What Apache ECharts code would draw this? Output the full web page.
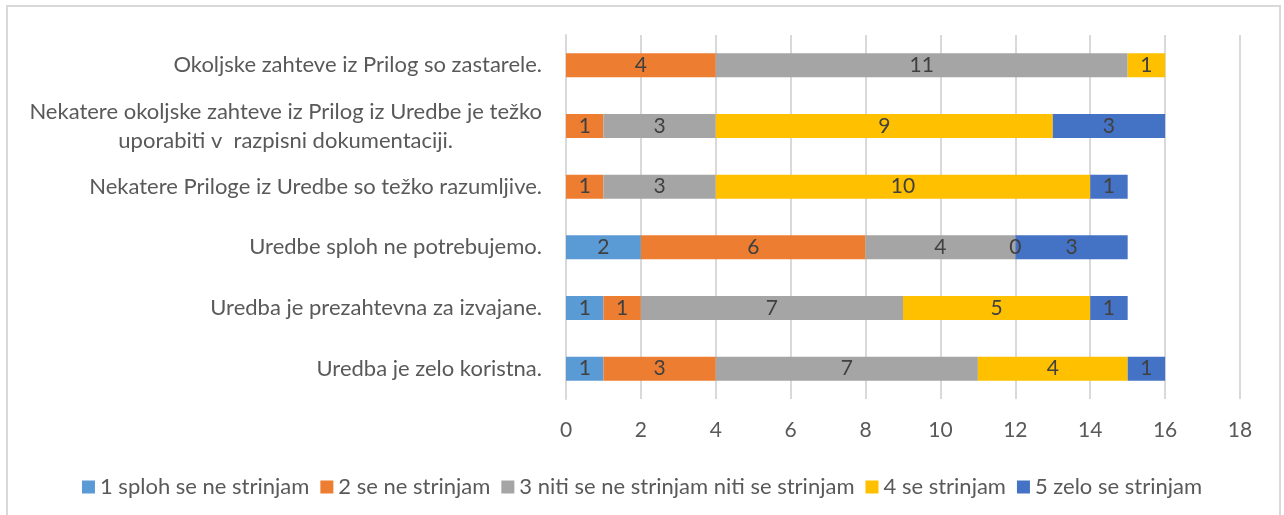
<!DOCTYPE html>
<html>
<head>
<meta charset="utf-8">
<script src="https://cdn.jsdelivr.net/npm/echarts@6/dist/echarts.min.js"></script>
<style>
  html, body { margin: 0; padding: 0; background: #fff; }
  #chart { width: 1284px; height: 515px; }
</style>
</head>
<body>
<div id="chart"></div>
<script>
// categories bottom -> top (as the category axis draws them)
var categories = [
    'Uredba je zelo koristna.',
    'Uredba je prezahtevna za izvajane.',
    'Uredbe sploh ne potrebujemo.',
    'Nekatere Priloge iz Uredbe so težko razumljive.',
    'Nekatere okoljske zahteve iz Prilog iz Uredbe je težko\nuporabiti v  razpisni dokumentaciji.',
    'Okoljske zahteve iz Prilog so zastarele.'
]
var seriesNames = [
    '1 sploh se ne strinjam',
    '2 se ne strinjam',
    '3 niti se ne strinjam niti se strinjam',
    '4 se strinjam',
    '5 zelo se strinjam'
]
var colors = ['#5B9BD5', '#ED7D31', '#A5A5A5', '#FFC000', '#4472C4']
var s1 = [1, 1, 2, null, null, null]
var s2 = [3, 1, 6, 1, 1, 4]
var s3 = [7, 7, 4, 3, 3, 11]
var s4 = [4, 5, 0, 10, 9, 1]
var s5 = [1, 1, 3, 1, 3, null]
var values = [s1, s2, s3, s4, s5]
var xTicks = { min: 0, max: 18, step: 2 }

var font = 'Lato'
var fs = 21
var myChart = echarts.init(document.getElementById('chart'))

var series = []
for (var i = 0; i < values.length; i++) {
    series.push({
        name: seriesNames[i],
        type: 'bar',
        stack: 'total',
        barWidth: 24,
        itemStyle: { color: colors[i] },
        label: {
            show: true,
            position: 'inside',
            color: '#404040',
            fontSize: fs,
            fontFamily: font
        },
        emphasis: { disabled: true },
        data: values[i]
    })
}

option = {
    animation: false,
    color: colors,
    graphic: [{
        type: 'rect',
        shape: { x: 7, y: 6, width: 1273, height: 520 },
        style: { fill: 'none', stroke: '#D9D9D9', lineWidth: 2 }
    }],
    grid: { left: 566, right: 44, top: 35, bottom: 116 },
    legend: {
        top: 471,
        left: 'center',
        icon: 'rect',
        itemWidth: 13,
        itemHeight: 13,
        itemGap: 11,
        textStyle: { color: '#595959', fontSize: 22, fontFamily: font },
        data: seriesNames
    },
    xAxis: {
        type: 'value',
        min: xTicks.min,
        max: xTicks.max,
        interval: xTicks.step,
        axisLine: { show: false },
        axisTick: { show: false },
        axisLabel: { color: '#595959', fontSize: fs, fontFamily: font, margin: 21 },
        splitLine: { lineStyle: { color: '#D9D9D9', width: 2 } }
    },
    yAxis: {
        type: 'category',
        data: categories,
        axisLine: { show: true, lineStyle: { color: '#D9D9D9', width: 2 } },
        axisTick: { show: false },
        axisLabel: {
            color: '#595959',
            fontSize: 22,
            fontFamily: font,
            margin: 24,
            lineHeight: 29,
            formatter: function (v) {
                return v.split('\n').map(function (s) { return '{c|' + s + '}' }).join('\n')
            },
            rich: {
                c: { align: 'center', color: '#595959', fontSize: 22, fontFamily: font, lineHeight: 29 }
            }
        }
    },
    series: series
}

myChart.setOption(option)
</script>
</body>
</html>
